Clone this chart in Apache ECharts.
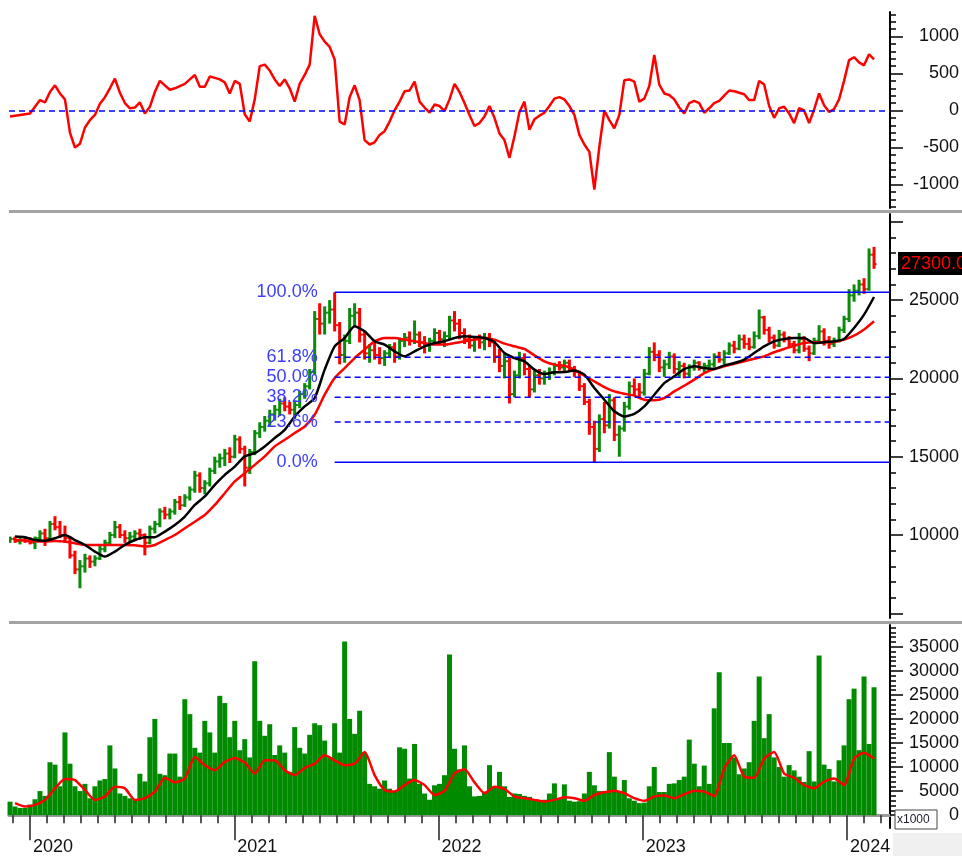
<!DOCTYPE html>
<html><head><meta charset="utf-8">
<script src="https://cdn.jsdelivr.net/npm/echarts@6/dist/echarts.min.js"></script>
<style>html,body{margin:0;padding:0;background:#fff}#c{width:962px;height:856px}</style>
</head><body><div id="c"></div>
<script>
// ---------- time base (decimal years) ----------
const START_YEAR = 2019.902;   // first bar
const STEP_YEARS = 0.02445;    // spacing between bars
const X_MIN = 2019.897, X_MAX = 2024.210;

// ---------- price bars [open, high, low, close] ----------
const ohlc = [
[9700,9900,9500,9750],[9750,9900,9500,9600],[9600,9800,9400,9700],[9700,9900,9500,9650],[9650,9850,9400,9500],
[9500,9900,9100,9800],[9800,10300,9600,10100],[10100,10400,9300,9800],[9800,10900,9700,10700],[10700,11200,10300,10500],
[10500,10900,9800,10000],[10000,10600,9500,9800],[9800,9900,8500,8700],[8700,9000,7500,7800],[7800,8400,6600,8000],
[8000,8800,7600,8500],[8500,8700,7900,8300],[8300,8700,8000,8500],[8500,9300,8400,9100],[9100,9700,8900,9500],
[9500,10200,9300,10000],[10000,10900,9800,10500],[10500,10700,9800,10000],[10000,10300,9500,9800],[9800,10200,9500,9900],
[9900,10300,9600,10100],[10100,10400,9700,10000],[10000,10100,8700,9500],[9500,10600,9400,10400],[10400,10900,10100,10700],
[10700,11700,10500,11500],[11500,11800,11000,11300],[11300,11700,11000,11500],[11500,12300,11300,12100],[12100,12500,11600,11900],
[11900,12600,11800,12400],[12400,13100,12200,12900],[12900,14100,12700,13800],[13800,14000,12700,13000],[13000,13500,12600,13300],
[13300,14300,13100,14100],[14100,15000,13900,14700],[14700,15200,14300,14900],[14900,15500,14400,15200],[15200,15600,14600,15000],
[15000,16400,14900,16100],[16100,16300,15200,15500],[15500,15700,13100,14300],[14300,15500,13900,15300],[15300,16700,15100,16500],
[16500,17200,16200,16900],[16900,17600,16600,17300],[17300,18000,16900,17700],[17700,18300,17300,18000],[18000,18700,17600,18400],
[18400,18800,17900,18200],[18200,18500,17700,18000],[18000,18600,17400,18300],[18300,19200,18100,19000],[19000,19700,18700,19500],
[19500,20600,19300,20400],[20400,24300,20200,23800],[23800,24800,22800,23500],[23500,24600,22800,24200],[24200,25000,23500,24400],
[24400,25500,23000,23400],[23400,23600,20900,21500],[21500,22800,21000,22400],[22400,24500,22200,24000],[24000,24800,23300,24200],
[24200,24500,22300,22800],[22800,23000,21200,21600],[21600,22200,21000,21800],[21800,22300,21200,21500],[21500,22000,20900,21300],
[21300,21800,20800,21600],[21600,22200,21300,22000],[22000,22300,21000,21400],[21400,22600,21200,22400],[22400,22900,22000,22600],
[22600,23000,22100,22400],[22400,23700,22200,22800],[22800,23000,22000,22300],[22300,22700,21600,22100],[22100,22600,21700,22400],
[22400,23200,22200,22900],[22900,23100,22200,22500],[22500,23000,22000,22700],[22700,24000,22500,23700],[23700,24300,23000,23500],
[23500,23800,22500,22900],[22900,23200,22200,22500],[22500,22800,21900,22100],[22100,22700,21700,22500],[22500,22800,21900,22300],
[22300,22900,21800,22600],[22600,22900,22000,22300],[22300,22500,21000,21400],[21400,21900,20400,20800],[20800,21600,20000,21100],
[21100,21300,18400,19000],[19000,20500,18800,20200],[20200,21700,20000,21300],[21300,21600,20200,20600],[20600,20800,18800,19300],
[19300,20500,19100,20200],[20200,20600,19600,20000],[20000,20500,19600,20300],[20300,20700,19900,20400],[20400,21000,20200,20800],
[20800,21100,20500,20700],[20700,21200,20400,21000],[21000,21200,20500,20600],[20600,20800,20100,20400],[20400,20500,19200,19500],
[19500,19700,18300,18500],[18500,18700,16400,16900],[16900,17300,14650,15500],[15500,17700,15300,17400],[17400,18500,16500,17000],
[17000,19000,16800,18600],[18600,18800,16000,16400],[16400,17000,15000,16800],[16800,18500,16600,18200],[18200,19800,18000,19500],
[19500,20000,18900,19300],[19300,19700,18700,19100],[19100,20600,18900,20300],[20300,22000,20200,21700],[21700,22300,21100,21500],
[21500,21800,20400,20700],[20700,21200,20100,20900],[20900,21700,20600,21400],[21400,21600,20300,20600],[20600,21100,20100,20800],
[20800,21000,20000,20300],[20300,20900,20100,20700],[20700,21200,20500,21000],[21000,21100,20500,20700],[20700,21000,20400,20800],
[20800,21200,20500,20900],[20900,21600,20700,21400],[21400,21700,21000,21200],[21200,21800,20900,21600],[21600,22300,21500,22100],
[22100,22400,21600,21900],[21900,22800,21800,22500],[22500,22800,21900,22200],[22200,22600,21800,22000],[22000,23000,21900,22700],
[22700,24400,22500,23900],[23900,24000,22800,23100],[23100,23300,22300,22600],[22600,22800,21900,22100],[22100,23100,22000,22800],
[22800,23000,22300,22500],[22500,22700,22000,22200],[22200,22400,21600,21800],[21800,22900,21600,22500],[22500,22700,21700,21900],
[21900,22100,21100,21600],[21600,22600,21500,22400],[22400,23400,22200,23000],[23000,23200,22100,22400],[22400,22700,21900,22200],
[22200,22600,22000,22400],[22400,23300,22300,23100],[23100,24000,22900,23800],[23800,25700,23600,25300],[25300,26000,24900,25600],
[25600,26300,25300,26000],[26000,26400,25400,25700],[25700,28300,25600,27900],[27900,28400,27000,27300]
];

// ---------- oscillator (top panel), one value per bar ----------
const osc = [
-80,-70,-60,-50,-40,50,140,110,250,340,
230,150,-300,-500,-450,-230,-130,-60,90,180,
300,430,240,100,30,40,110,-40,50,250,
400,340,280,300,330,360,420,480,320,320,
460,440,420,380,230,400,360,-50,-150,150,
600,620,540,420,330,420,300,120,360,480,
620,1280,1030,930,860,690,-150,-190,180,340,
140,-400,-460,-430,-330,-280,-150,0,120,260,
270,390,120,40,-30,80,60,-10,150,360,
250,100,-60,-210,
-170,-80,60,-100,-310,-400,-640,-350,-20,120,
-260,-120,-70,-30,60,160,180,150,60,-60,
-330,-460,-560,-1070,-490,0,-130,-240,-60,410,
420,390,120,160,330,750,350,230,210,150,
40,-40,100,130,100,-30,30,100,130,200,
270,260,240,220,140,140,400,350,60,-100,
30,50,-40,-170,30,0,-170,10,230,70,
-20,20,150,400,680,720,650,610,760,690
];

// ---------- volume (x1000), one value per bar ----------
const volume = [
2800,1800,1500,1500,2200,3300,5000,4000,11000,10500,
6000,17200,10700,6000,5000,6500,3500,6000,7200,7500,
14500,9700,4500,4000,3500,3200,8600,7000,16200,20000,
8600,8300,12800,12800,8000,24100,21000,14000,13000,19600,
17200,13000,24800,23300,16200,19600,13500,15800,12000,32000,
19600,16500,18900,12500,14500,13000,9000,18300,14000,12800,
16700,19100,18700,15500,12000,19100,13000,36100,20000,16900,
21700,13000,6500,6000,5500,7200,5500,5000,14100,13800,
7600,14800,6500,4500,3200,6200,6500,8300,33400,13800,
9500,14500,6000,3900,
4000,4900,10400,6000,9000,6000,3800,4500,4400,4000,
3800,3200,3000,3200,4500,6600,3500,6400,3000,2800,
2900,4500,9000,6200,5000,5000,13100,8000,5000,7300,
3500,3000,2500,2600,6000,10000,4800,4800,6500,6600,
7300,8000,15700,10700,6000,10300,6500,22200,29700,15000,
15000,12000,8500,9700,11000,19600,28800,16000,21000,12000,
10000,8000,10400,9300,8000,6900,13300,7000,33200,10500,
9600,7000,11400,14500,24100,26300,13500,28800,14800,26600
];

// ---------- moving averages, one value every second bar (odd bar indexes) ----------
const maBlack = [
9900,9860,9680,9640,9790,10000,9680,9365,8940,8620,
8940,9365,9680,9860,9860,10220,10640,11180,11920,12460,
13200,13840,14370,15020,15230,15660,16190,16720,17570,18210,
18750,20560,22050,22580,23330,23010,22370,22160,21730,21410,
21730,22050,22260,22370,22580,22690,22650,
22580,22310,21620,21300,21090,20560,20280,20390,20410,20500,
20240,19390,18640,17900,17570,17740,18210,18960,19700,20130,
20600,20770,20660,20600,20830,20980,21200,21620,22050,22370,
22520,22580,22580,22260,22310,22370,22520,23220,24070,25200
];
const maRed = [
9680,9640,9580,9580,9620,9580,9470,9365,9365,9365,
9365,9365,9340,9260,9365,9680,10000,10430,10850,11280,
11920,12670,13420,13950,14480,15020,15660,16080,16510,16930,
17680,18960,20030,20660,21300,21840,22370,22580,22580,22480,
22370,22260,22160,22160,22260,22370,22480,
22580,22480,22220,22050,21880,21470,21090,20880,20810,20560,
20170,19810,19450,19170,19020,18900,18640,18600,18750,19170,
19530,19920,20340,20600,20770,20940,21090,21260,21410,21670,
21880,22090,22260,22310,22310,22330,22480,22730,23120,23650
];
const volMA = [
2490,1800,2140,3170,5570,7490,7290,5230,3170,3860,
5920,5570,3170,3520,4890,7770,6810,7630,12090,10380,
9350,11060,11880,10920,8660,11400,11400,9350,8320,9830,
10720,12430,11400,10380,10720,13120,8320,5230,4890,6260,
7290,6260,4200,5030,8660,9550,6810,
4550,5920,5440,3860,3520,3170,2830,3170,3720,3520,
2970,4200,4750,5090,4550,3520,2970,3860,4070,3520,
4340,5090,4890,4000,9690,12430,7980,7770,11750,13120,
8660,7770,6260,5570,6950,7630,6260,11750,12980,11750
];

// ---------- fibonacci retracement ----------
const fibHigh = 25500, fibLow = 14650, fibStartIndex = 65;
const fibLevels = [0, 23.6, 38.2, 50, 61.8, 100];

// ---------- tick labels ----------
const yearTicks = [2020, 2021, 2022, 2023, 2024];
const oscTicks = [-1000, -500, 0, 500, 1000];
const priceTicks = [5000, 10000, 15000, 20000, 25000, 30000];
const priceLabels = [10000, 15000, 20000, 25000];
const volTicks = [0, 5000, 10000, 15000, 20000, 25000, 30000, 35000];
const lastPriceText = '27300.00';

// ---------- build ----------
const xOf = i => START_YEAR + i * STEP_YEARS;
const range = (a, b, s) => { const r = []; for (let v = a; v <= b; v += s) r.push(v); return r; };
const monthTicks = [];
for (let y = 2019; y <= 2024; y++) for (let m = 0; m < 12; m++) { const v = y + m / 12; if (v > X_MIN && v < X_MAX) monthTicks.push(v); }

const FONT = "'Liberation Sans', Arial, sans-serif";
const AX = '#000';
const chart = echarts.init(document.getElementById('c'), null, { renderer: 'canvas' });

const G0 = { left: 9, right: 71, top: 12, height: 196 };
const G1 = { left: 9, right: 71, top: 214, height: 404 };
const G2 = { left: 9, right: 71, top: 625, height: 205 };
const Y0 = [-1318, 1331], Y1 = [4700, 30500], Y2 = [-2676, 39529];

function hiddenX(g) { return { type: 'value', gridIndex: g, min: X_MIN, max: X_MAX, show: false }; }
function yMinor(g, ext, ticks) {
  return { type: 'value', gridIndex: g, position: 'right', min: ext[0], max: ext[1], scale: true,
    axisLine: { show: true, lineStyle: { color: AX, width: 2 } },
    axisTick: { show: true, length: 6, customValues: ticks, lineStyle: { color: AX, width: 1.5 } },
    axisLabel: { show: false }, splitLine: { show: false } };
}
function yMajor(g, ext, ticks, labels) {
  return { type: 'value', gridIndex: g, position: 'right', min: ext[0], max: ext[1], scale: true,
    axisLine: { show: false },
    axisTick: { show: true, length: 13, customValues: ticks, lineStyle: { color: AX, width: 1.5 } },
    axisLabel: { show: true, customValues: labels, align: 'right', margin: 69,
      fontFamily: FONT, fontSize: 18, color: '#111', formatter: v => String(Math.round(v)) },
    splitLine: { show: false } };
}

const ohlcData = ohlc.map((r, i) => [xOf(i), r[0], r[1], r[2], r[3]]);
const maX = k => xOf(2 * k + 1);
const fibStartX = xOf(fibStartIndex);
const fibData = fibLevels.map(l => [fibStartX, fibLow + (fibHigh - fibLow) * l / 100, l]);

const option = {
  animation: false,
  backgroundColor: '#fff',
  grid: [G0, G1, G2],
  xAxis: [
    hiddenX(0), hiddenX(1),
    { type: 'value', gridIndex: 2, min: X_MIN, max: X_MAX, position: 'bottom',
      axisLine: { show: true, lineStyle: { color: '#9a9a9a', width: 3 } },
      axisTick: { show: true, length: 8, customValues: monthTicks, lineStyle: { color: '#222', width: 1.5 } },
      axisLabel: { show: false }, splitLine: { show: false } },
    { type: 'value', gridIndex: 2, min: X_MIN, max: X_MAX, position: 'bottom',
      axisLine: { show: false },
      axisTick: { show: true, length: 25, customValues: yearTicks, lineStyle: { color: '#222', width: 1.5 } },
      axisLabel: { show: true, customValues: yearTicks, align: 'left', margin: 10, padding: [0, 0, 0, 3],
        fontFamily: FONT, fontSize: 18, color: '#111', formatter: v => String(Math.round(v)) },
      splitLine: { show: false } }
  ],
  yAxis: [
    yMinor(0, Y0, range(-1300, 1300, 100)), yMajor(0, Y0, oscTicks, oscTicks),
    yMinor(1, Y1, range(5000, 30000, 1000)), yMajor(1, Y1, priceTicks, priceLabels),
    yMinor(2, Y2, range(0, 39000, 1000)), yMajor(2, Y2, volTicks, volTicks)
  ],
  series: [
    { type: 'line', xAxisIndex: 0, yAxisIndex: 0, data: osc.map((v, i) => [xOf(i), v]),
      showSymbol: false, lineStyle: { color: '#ff0000', width: 2.5 }, z: 3,
      markLine: { silent: true, symbol: 'none', label: { show: false },
        lineStyle: { color: '#0000ff', type: [6, 4], width: 1.5 }, data: [{ yAxis: 0 }] } },
    { type: 'custom', xAxisIndex: 1, yAxisIndex: 2, data: ohlcData, clip: true, z: 2,
      encode: { x: 0, y: [1, 2, 3, 4] },
      renderItem: function (params, api) {
        const x = api.value(0), o = api.value(1), h = api.value(2), l = api.value(3), c = api.value(4);
        const ph = api.coord([x, h]), pl = api.coord([x, l]), po = api.coord([x, o]), pc = api.coord([x, c]);
        const col = c >= o ? '#0b8a0b' : '#ff0000';
        return { type: 'group', children: [
          { type: 'line', shape: { x1: ph[0], y1: ph[1], x2: pl[0], y2: pl[1] }, style: { stroke: col, lineWidth: 3 } },
          { type: 'line', shape: { x1: po[0] - 2.5, y1: po[1], x2: po[0], y2: po[1] }, style: { stroke: col, lineWidth: 2 } },
          { type: 'line', shape: { x1: pc[0], y1: pc[1], x2: pc[0] + 2.5, y2: pc[1] }, style: { stroke: col, lineWidth: 2 } }
        ] };
      } },
    { type: 'line', xAxisIndex: 1, yAxisIndex: 2, data: maRed.map((v, k) => [maX(k), v]),
      showSymbol: false, smooth: 0.2, lineStyle: { color: '#ff0000', width: 2.5 }, z: 4 },
    { type: 'line', xAxisIndex: 1, yAxisIndex: 2, data: maBlack.map((v, k) => [maX(k), v]),
      showSymbol: false, smooth: 0.2, lineStyle: { color: '#000000', width: 2.5 }, z: 5 },
    { type: 'custom', xAxisIndex: 1, yAxisIndex: 2, data: fibData, z: 6,
      encode: { x: 0, y: 1 },
      renderItem: function (params, api) {
        const x = api.value(0), v = api.value(1), lvl = api.value(2);
        const p1 = api.coord([x, v]), p2 = api.coord([X_MAX, v]);
        const solid = (lvl === 0 || lvl === 100);
        return { type: 'group', children: [
          { type: 'line', shape: { x1: p1[0], y1: p1[1], x2: p2[0], y2: p2[1] },
            style: { stroke: '#0000ff', lineWidth: 1.5, lineDash: solid ? null : [6, 4] } },
          { type: 'text', x: p1[0] - 17, y: p1[1],
            style: { text: lvl.toFixed(1) + '%', fill: '#3d3dff', font: '18px ' + FONT,
              align: 'right', verticalAlign: 'middle' } }
        ] };
      } },
    { type: 'bar', xAxisIndex: 2, yAxisIndex: 4, data: volume.map((v, i) => [xOf(i), v]),
      barWidth: 5, itemStyle: { color: '#008a00' }, z: 2 },
    { type: 'line', xAxisIndex: 2, yAxisIndex: 4, data: volMA.map((v, k) => [maX(k), v]),
      showSymbol: false, smooth: 0.2, lineStyle: { color: '#ff0000', width: 2.5 }, z: 4 }
  ]
};
chart.setOption(option);

const lastClose = ohlc[ohlc.length - 1][3];
const py = chart.convertToPixel({ xAxisIndex: 1, yAxisIndex: 3 }, [X_MAX, lastClose])[1];
chart.setOption({ graphic: [
  { type: 'rect', left: 9, top: 210, shape: { width: 953, height: 3 }, style: { fill: '#a3a3a3' }, z: 100 },
  { type: 'rect', left: 9, top: 621, shape: { width: 953, height: 3 }, style: { fill: '#a3a3a3' }, z: 100 },
  { type: 'rect', x: 893, y: 833, shape: { width: 69, height: 23 }, style: { fill: '#f0f0f0' }, z: 90 },
  { type: 'rect', x: 895, y: 810, shape: { width: 42, height: 19 }, style: { fill: '#fff', stroke: '#444', lineWidth: 1 }, z: 100 },
  { type: 'text', x: 897, y: 820, style: { text: 'x1000', fill: '#223', font: '12px ' + FONT, verticalAlign: 'middle' }, z: 101 },
  { type: 'rect', x: 898, y: py - 12, shape: { width: 70, height: 23 }, style: { fill: '#000' }, z: 100 },
  { type: 'text', x: 901, y: py, style: { text: lastPriceText, fill: '#ff0000', font: '18px ' + FONT, verticalAlign: 'middle' }, z: 101 }
] });
</script>
</body></html>
